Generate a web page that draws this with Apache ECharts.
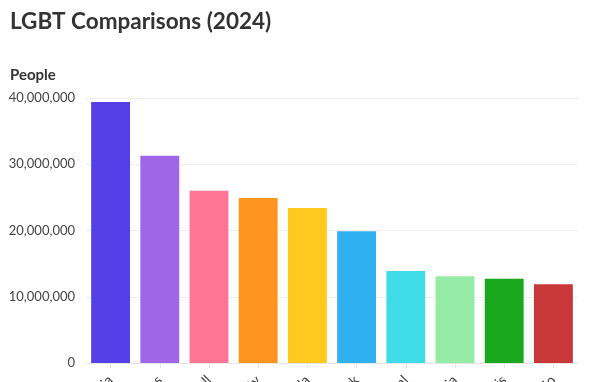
<!DOCTYPE html>
<html>
<head>
<meta charset="utf-8">
<script src="https://cdn.jsdelivr.net/npm/echarts@6/dist/echarts.min.js"></script>
<style>
html,body{margin:0;padding:0;background:#fff;}
#chart{width:602px;height:382px;}
</style>
</head>
<body>
<div id="chart"></div>
<script>
const categories = ["California", "Texas", "LGBT Overall", "LGBTQ+ Community", "Florida", "New York", "LGBT Total", "Pennsylvania", "Illinois", "Ohio"];
const values = [39400000, 31300000, 26000000, 24900000, 23400000, 19900000, 13900000, 13100000, 12700000, 11900000];
const colors = ["#553fe6", "#9f67e8", "#ff7593", "#ff951f", "#ffc91f", "#2fb0ef", "#3fdbe6", "#95eba5", "#1aa81e", "#c93838"];
const yTicks = [0, 10000000, 20000000, 30000000, 40000000];

const chart = echarts.init(document.getElementById('chart'));
chart.setOption({
  animation: false,
  textStyle: { fontFamily: 'Lato' },
  title: [
    { text: 'LGBT Comparisons (2024)', left: 5, top: 5,
      textStyle: { fontFamily: 'Lato', fontSize: 22.5, fontWeight: 'bold', color: '#333' } },
    { text: 'People', left: 5, top: 63,
      textStyle: { fontFamily: 'Lato', fontSize: 15, fontWeight: 'bold', color: '#333' } }
  ],
  grid: { left: 86, right: 24, top: 98, bottom: 19, outerBoundsMode: 'none', containLabel: false },
  xAxis: {
    type: 'category',
    data: categories,
    axisLine: { lineStyle: { color: '#e6e6e6' } },
    axisTick: { show: true, alignWithLabel: true, length: 5, lineStyle: { color: '#e6e6e6' } },
    axisLabel: { rotate: 45, margin: 15, fontSize: 14, color: '#444', fontFamily: 'Lato', interval: 0 }
  },
  yAxis: {
    type: 'value',
    min: yTicks[0],
    max: yTicks[yTicks.length - 1],
    interval: yTicks[1] - yTicks[0],
    axisLine: { show: false },
    axisTick: { show: false },
    splitLine: { lineStyle: { color: '#eeeeee' } },
    axisLabel: {
      fontSize: 13, color: '#444', fontFamily: 'Lato', margin: 11,
      formatter: v => v.toLocaleString('en-US')
    }
  },
  series: [{
    type: 'bar',
    barCategoryGap: '21%',
    data: values.map((v, i) => ({ value: v, itemStyle: { color: colors[i] } }))
  }]
});
</script>
</body>
</html>
